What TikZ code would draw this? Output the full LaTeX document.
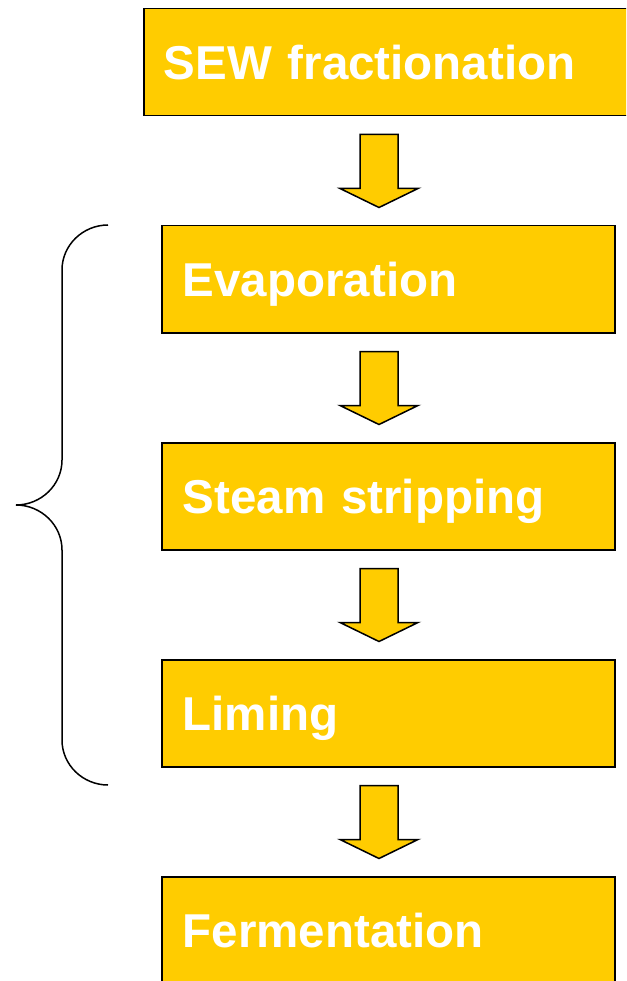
\documentclass[tikz,border=0pt]{standalone}
\usepackage{fontspec}
\setmainfont{Liberation Sans}
\usetikzlibrary{calc}
\definecolor{gold}{HTML}{FFCC00}
\tikzset{
  stepbox/.style={draw=black, line width=1.5pt, fill=gold, rectangle, anchor=north west,
    minimum height=107, text height=34, text depth=0, inner xsep=21, inner ysep=0,
    text width=411, align=left, text=white,
    font=\fontsize{47.5}{56}\selectfont\bfseries},
  flowarrow/.style={draw=black, line width=1.5pt, fill=gold, line join=miter},
  bracestyle/.style={draw=black, line width=1.5pt}
}
\begin{document}
\begin{tikzpicture}[x=1pt,y=-1pt]
\useasboundingbox (0,0) rectangle (626,981);
\clip (0,0) rectangle (626,981);
\node[stepbox, text width=480, inner xsep=20] (b1) at (143,8) {SEW fractionation};
\node[stepbox, minimum width=453] (b2) at (161,225) {Evaporation};
\node[stepbox, minimum width=453] (b3) at (161,442) {Steam stripping};
\node[stepbox, minimum width=453] (b4) at (161,659) {Liming};
\node[stepbox, minimum width=453] (b5) at (161,876) {Fermentation};
% block arrows between boxes
\coordinate (a1) at ($(b1.south -| 379,0)+(0,18)$);
\coordinate (a2) at ($(b2.south -| 379,0)+(0,18)$);
\coordinate (a3) at ($(b3.south -| 379,0)+(0,18)$);
\coordinate (a4) at ($(b4.south -| 379,0)+(0,18)$);
\foreach \a in {a1,a2,a3,a4}{
  \draw[flowarrow] (\a) ++(-19,0) -- ++(38,0) -- ++(0,54) -- ++(20,0) -- ++(-39,19)
    -- ++(-39,-19) -- ++(20,0) -- cycle;
}
% brace
\coordinate (bt) at (108,225);
\coordinate (bm) at (16,505);
\coordinate (bb) at (108,785);
\draw[bracestyle] (bt) .. controls (83,225) and (62,245) .. (62,270) -- (62,460)
  .. controls (62,485) and (41,505) .. (bm)
  .. controls (41,505) and (62,525) .. (62,550) -- (62,740)
  .. controls (62,765) and (83,785) .. (bb);
\end{tikzpicture}
\end{document}
